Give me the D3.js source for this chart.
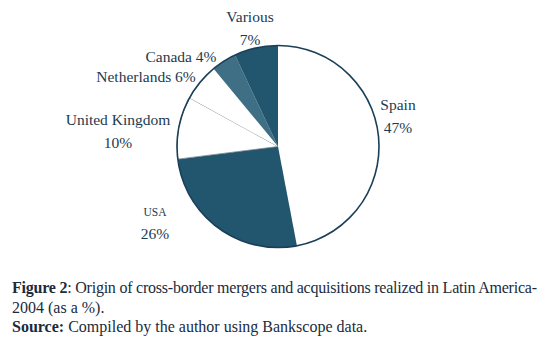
<!DOCTYPE html>
<html>
<head>
<meta charset="utf-8">
<script src="https://cdn.jsdelivr.net/npm/d3@7"></script>
<style>
  body { margin: 0; background: #fff; }
</style>
</head>
<body>
<svg id="piechart" width="541" height="343"></svg>
<script>
// data
const countries = ["Spain", "USA", "United Kingdom", "Netherlands", "Canada", "Various"];
const shares = [47, 26, 10, 6, 4, 7];
const sliceColors = ["#ffffff", "#22566f", "#ffffff", "#ffffff", "#3e6f85", "#22566f"];

// label placement per slice: [x, y] of name line, inline or two-line
const labelPos = [
    { x: 398, y: 110, two: true },
    { x: 155, y: 216, two: true, small: true },
    { x: 118, y: 125, two: true },
    { x: 146, y: 82, two: false },
    { x: 181, y: 62, two: false },
    { x: 250, y: 22, two: true }
];

const serif = "'Liberation Serif'";

function showPieChart() {
    const svg = d3.select("#piechart");
    const cx = 278, cy = 146.5, radius = 101;
    const ink = "#1d3a50";

    const g = svg.append("g").attr("transform", `translate(${cx}, ${cy})`);

    const data = countries.map((name, i) => ({ name: name, value: shares[i], i: i }));
    const pie = d3.pie().sort(null).value((d) => d.value);
    const arc = d3.arc().outerRadius(radius).innerRadius(0);

    g.selectAll(".arc")
        .data(pie(data))
        .enter()
        .append("path")
        .attr("class", "arc")
        .attr("d", arc)
        .attr("fill", (d) => sliceColors[d.data.i])
        .attr("stroke", (d) => d.data.i === 2 ? "#6f7f8a" : "none")
        .attr("stroke-width", 0.8);

    // outer rim
    g.append("circle")
        .attr("r", radius)
        .attr("fill", "none")
        .attr("stroke", "#1b3f58")
        .attr("stroke-width", 1.6);

    const addText = (x, y, size, txt) =>
        svg.append("text")
            .attr("x", x).attr("y", y)
            .attr("text-anchor", "middle")
            .attr("fill", ink)
            .style("font-family", serif)
            .style("font-size", size + "px")
            .text(txt);

    // labels
    data.forEach((d, i) => {
        const p = labelPos[i];
        if (p.two) {
            addText(p.x, p.y, p.small ? 11.5 : 15.5, p.small ? d.name.toUpperCase() : d.name);
            addText(p.x, p.y + 23, 15.5, d.value + "%");
        } else {
            addText(p.x, p.y, 15.5, d.name + " " + d.value + "%");
        }
    });

    // caption
    const capLine = (y) => svg.append("text")
        .attr("x", 12).attr("y", y)
        .attr("fill", "#1a2b3c")
        .style("font-family", serif)
        .style("font-size", "16px");
    const l1 = capLine(293).attr("textLength", 525).attr("lengthAdjust", "spacing");
    l1.append("tspan").style("font-weight", "bold").text("Figure 2");
    l1.append("tspan").text(": Origin of cross-border mergers and acquisitions realized in Latin America-");
    capLine(312.5).text("2004 (as a %).");
    const l3 = capLine(332);
    l3.append("tspan").style("font-weight", "bold").text("Source:");
    l3.append("tspan").text(" Compiled by the author using Bankscope data.");
}

showPieChart();
</script>
</body>
</html>
